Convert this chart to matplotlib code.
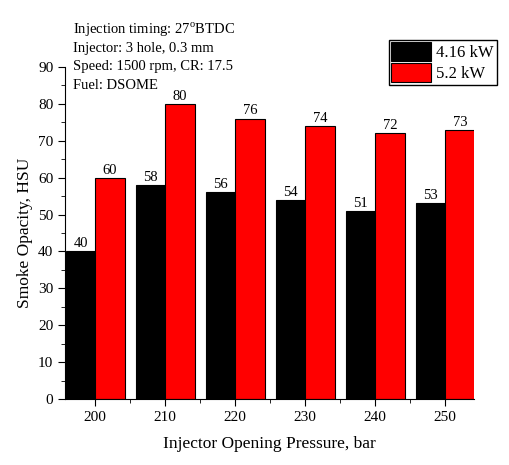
import numpy as np
import matplotlib
matplotlib.use("Agg")
import matplotlib.pyplot as plt
from matplotlib.ticker import MultipleLocator

plt.rcParams['font.family'] = ['Liberation Serif', 'DejaVu Serif']
plt.rcParams['mathtext.fontset'] = 'custom'
plt.rcParams['mathtext.rm'] = 'Liberation Serif'

# data
pressures = [200, 210, 220, 230, 240, 250]
load_416 = [40, 58, 56, 54, 51, 53]
load_52 = [60, 80, 76, 74, 72, 73]
series_names = ['4.16 kW', '5.2 kW']
info_lines = ['Injection timing: 27$^{\\rm o}$BTDC',
              'Injector: 3 hole, 0.3 mm',
              'Speed: 1500 rpm, CR: 17.5',
              'Fuel: DSOME']

fig = plt.figure(figsize=(5.09, 4.65), dpi=100)
ax = fig.add_axes([0.128, 0.142, 0.803, 0.714])

x = np.array(pressures, dtype=float)
w = 4.2
b1 = ax.bar(x - w / 2, load_416, w, color='black', edgecolor='black', linewidth=0.8, label=series_names[0])
b2 = ax.bar(x + w / 2, load_52, w, color='#ff0000', edgecolor='black', linewidth=0.8, label=series_names[1])

for bars, vals in ((b1, load_416), (b2, load_52)):
    for r, v in zip(bars, vals):
        ax.text(r.get_x() + r.get_width() / 2, v + 0.3, str(v), ha='center', va='bottom', fontsize=10.5)

ax.set_xlim(195.7, 254.1)
ax.set_ylim(0, 90)
ax.set_xticks(pressures)
ax.xaxis.set_minor_locator(MultipleLocator(5))
ax.yaxis.set_major_locator(MultipleLocator(10))
ax.yaxis.set_minor_locator(MultipleLocator(5))
ax.tick_params(which='major', direction='out', length=5, labelsize=11)
ax.tick_params(which='minor', direction='out', length=3)
ax.spines['top'].set_visible(False)
ax.spines['right'].set_visible(False)

ax.set_xlabel('Injector Opening Pressure, bar', fontsize=12.5, labelpad=9)
ax.set_ylabel('Smoke Opacity, HSU', fontsize=12.5, labelpad=4)

ys = [0.935, 0.896, 0.856, 0.817]
for s, yy in zip(info_lines, ys):
    fig.text(0.143, yy, s, fontsize=10.5, va='center', ha='left')

leg = fig.legend(handles=[b1, b2], loc='upper left', bbox_to_anchor=(0.764, 0.915),
                 fancybox=False, edgecolor='black', fontsize=12, handlelength=2.4, handleheight=1.35,
                 handletextpad=0.3, borderpad=0.15, labelspacing=0.15, borderaxespad=0, framealpha=1)
leg.get_frame().set_linewidth(1.0)

fig.savefig('out.png', dpi=100)
